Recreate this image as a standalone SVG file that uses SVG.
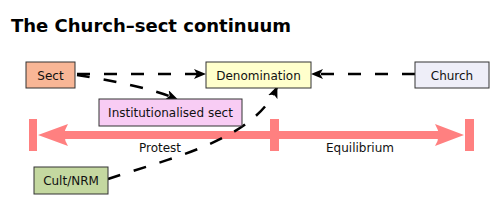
<svg xmlns="http://www.w3.org/2000/svg" width="500" height="213" viewBox="0 0 500 213">
<style>
text{font-family:"DejaVu Sans",sans-serif;font-size:12px;fill:#111;text-anchor:middle}
.title{font-size:18px;font-weight:bold;text-anchor:start;fill:#000}
.box{stroke:#333;stroke-width:1}
.conn{fill:none;stroke:#000;stroke-width:2.5;stroke-dasharray:13,14}
.bar{fill:#ff8080}
</style>
<defs>
<marker id="ah" viewBox="0 0 12 10" refX="11" refY="5" markerWidth="12" markerHeight="10" markerUnits="userSpaceOnUse" orient="auto">
<path d="M0,0 L12,5 L0,10 L3,5 Z" fill="#000"/>
</marker>
</defs>
<rect width="500" height="213" fill="#fff"/>
<text class="title" x="11" y="32">The Church–sect continuum</text>
<g id="scale">
<rect class="bar" x="29" y="119" width="8" height="32"/>
<rect class="bar" x="270" y="119" width="9" height="32"/>
<rect class="bar" x="465" y="119" width="9" height="32"/>
<rect class="bar" x="60" y="131" width="382" height="8"/>
<path class="bar" d="M38,135 L68,124 Q61,135 68,146 Z"/>
<path class="bar" d="M464,135 L435,124 Q442,135 435,146 Z"/>
<text x="160" y="152">Protest</text>
<text x="360" y="152">Equilibrium</text>
</g>
<g id="connectors">
<path class="conn" d="M77,74 L205,74" marker-end="url(#ah)"/>
<path class="conn" d="M415,74 L312,74" marker-end="url(#ah)"/>
<path class="conn" d="M77,75 C110,80 150,88 177,99" marker-end="url(#ah)"/>
<path class="conn" d="M108,179 C170,158 255,140 277,87" marker-end="url(#ah)"/>
</g>
<g id="sect">
<rect class="box" x="26" y="62" width="49" height="26" fill="#f8b696"/>
<text x="50.5" y="80">Sect</text>
</g>
<g id="denomination">
<rect class="box" x="206" y="62" width="105" height="26" fill="#ffffcc"/>
<text x="258.5" y="80">Denomination</text>
</g>
<g id="church">
<rect class="box" x="415" y="62" width="74" height="26" fill="#eeeef8"/>
<text x="452" y="80">Church</text>
</g>
<g id="institutionalised-sect">
<rect class="box" x="99" y="99" width="143" height="27" fill="#f8ccf4"/>
<text x="170.5" y="117">Institutionalised sect</text>
</g>
<g id="cult-nrm">
<rect class="box" x="34" y="167" width="74" height="27" fill="#c4d8a0"/>
<text x="71" y="185">Cult/NRM</text>
</g>
</svg>
